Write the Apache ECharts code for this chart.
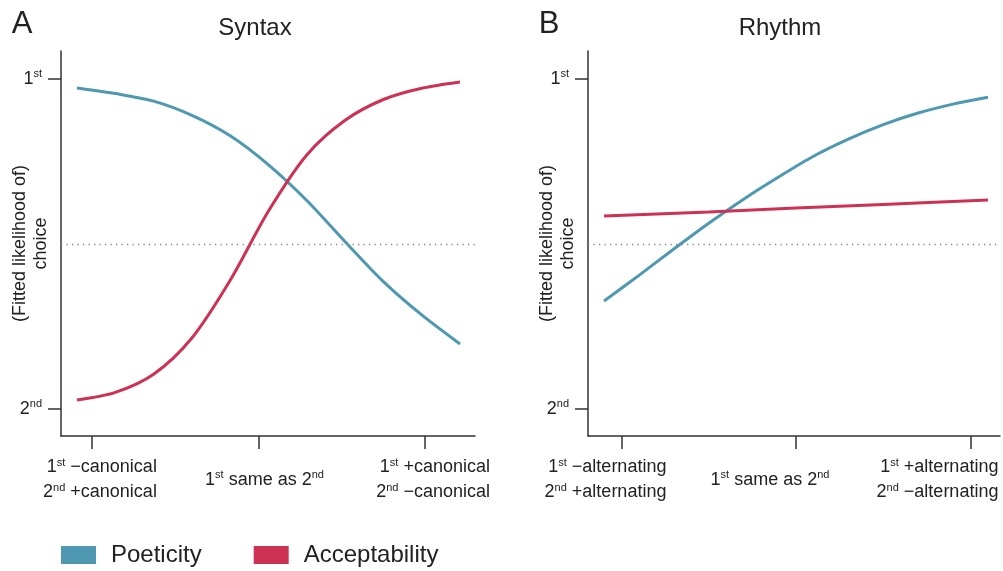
<!DOCTYPE html>
<html>
<head>
<meta charset="utf-8">
<script src="https://cdn.jsdelivr.net/npm/echarts@6.0.0/dist/echarts.min.js"></script>
<style>
  html, body { margin: 0; padding: 0; background: #fff; }
  #chart { width: 1003px; height: 571px; }
</style>
</head>
<body>
<div id="chart"></div>
<script>
// values (y: 0 = 2nd choice, 1 = 1st choice)
var xTickValues = [-1, 0, 1];
var syntaxTicks = ['1st −canonical|2nd +canonical', '1st same as 2nd', '1st +canonical|2nd −canonical'];
var rhythmTicks = ['1st −alternating|2nd +alternating', '1st same as 2nd', '1st +alternating|2nd −alternating'];
var yTickValues = [0, 1];
var yTickLabels = ['2nd', '1st'];

var syntaxX = [-1.09, -0.86, -0.63, -0.40, -0.17, 0.06, 0.29, 0.52, 0.75, 0.98, 1.21];
var syntaxPoeticity = [0.973, 0.956, 0.933, 0.89, 0.828, 0.74, 0.632, 0.507, 0.386, 0.285, 0.197];
var syntaxAcceptability = [0.027, 0.05, 0.105, 0.215, 0.39, 0.6, 0.77, 0.875, 0.938, 0.972, 0.991];

var rhythmX = [-1.1, -0.9, -0.7, -0.5, -0.3, -0.1, 0.1, 0.3, 0.5, 0.7, 0.9, 1.1];
var rhythmPoeticity = [0.327, 0.405, 0.485, 0.563, 0.636, 0.703, 0.766, 0.818, 0.862, 0.897, 0.924, 0.945];
var rhythmAccX = [-1.1, -0.5, 0, 0.5, 1.1];
var rhythmAcceptability = [0.585, 0.597, 0.609, 0.62, 0.633];

// horizontal nudge of each x tick label, px (layout only)
var syntaxLabelShift = [8, 6, 8];
var rhythmLabelShift = [-16, -26, -33];

var blue = '#4e98b1';
var red = '#cd3153';
var ink = '#222';

function zip(xs, ys) {
    var out = [];
    for (var i = 0; i < xs.length; i++) out.push([xs[i], ys[i]]);
    return out;
}

var labelRich = {
    n: { fontSize: 18, lineHeight: 25, color: ink, align: 'right', fontFamily: 'Liberation Sans' },
    p: { fontSize: 11, lineHeight: 25, color: ink, align: 'right', padding: [0, 0, 10, 0], fontFamily: 'Liberation Sans' },
    m: { fontSize: 18, lineHeight: 50, color: ink, fontFamily: 'Liberation Sans' },
    mp: { fontSize: 11, color: ink, padding: [0, 0, 10, 0], fontFamily: 'Liberation Sans' }
};
var yRich = {
    n: { fontSize: 18, color: ink, fontFamily: 'Liberation Sans' },
    p: { fontSize: 11, color: ink, padding: [0, 0, 10, 0], fontFamily: 'Liberation Sans' }
};

// padded copy of a rich style, registered under a new name
function shiftedStyle(base, side, amt) {
    var name = base + side + amt;
    if (!labelRich[name]) {
        var src = labelRich[base];
        var s = {};
        for (var k in src) s[k] = src[k];
        var pad = (src.padding || [0, 0, 0, 0]).slice();
        pad[side === 'L' ? 3 : 1] = amt * 2;
        s.padding = pad;
        labelRich[name] = s;
    }
    return name;
}

// turn "1st" / "2nd" into number + superscript tokens
function richLine(str, n, p, shift) {
    var parts = str.split(/(\d)(st|nd)/);
    var toks = [];
    for (var i = 0; i < parts.length; i++) {
        if (!parts[i]) continue;
        toks.push([i % 3 === 2 ? p : n, parts[i]]);
    }
    if (shift > 0) toks[0][0] = shiftedStyle(toks[0][0], 'L', shift);
    if (shift < 0) toks[toks.length - 1][0] = shiftedStyle(toks[toks.length - 1][0], 'R', -shift);
    return toks.map(function (t) { return '{' + t[0] + '|' + t[1] + '}'; }).join('');
}
function tickLabel(str, shift) {
    var lines = str.split('|');
    if (lines.length === 1) return richLine(str, 'm', 'mp', shift);
    return lines.map(function (l) { return richLine(l, 'n', 'p', shift); }).join('\n');
}
function buildLabels(ticks, shifts) {
    return ticks.map(function (t, i) { return tickLabel(t, shifts[i]); });
}
var syntaxLabelText = buildLabels(syntaxTicks, syntaxLabelShift);
var rhythmLabelText = buildLabels(rhythmTicks, rhythmLabelShift);

function makeX(idx, min, max, texts) {
    return {
        type: 'value', gridIndex: idx, min: min, max: max,
        axisLine: { onZero: false, lineStyle: { color: '#333', width: 1.5 } },
        axisTick: { customValues: xTickValues, length: 13, lineStyle: { color: '#333', width: 1.5 } },
        axisLabel: {
            customValues: xTickValues, margin: 19, hideOverlap: false,
            formatter: function (v) { return texts[xTickValues.indexOf(Math.round(v))]; },
            rich: labelRich
        },
        splitLine: { show: false }
    };
}
function makeY(idx) {
    return {
        type: 'value', gridIndex: idx, min: -0.082, max: 1.085,
        name: '(Fitted likelihood of)\nchoice', nameLocation: 'middle', nameGap: 9, nameMoveOverlap: false,
        nameTextStyle: { fontSize: 18, lineHeight: 21, color: ink, fontFamily: 'Liberation Sans' },
        axisLine: { onZero: false, lineStyle: { color: '#333', width: 1.5 } },
        axisTick: { customValues: yTickValues, length: 13, lineStyle: { color: '#333', width: 1.5 } },
        axisLabel: {
            customValues: yTickValues, margin: 19,
            formatter: function (v) { return richLine(yTickLabels[yTickValues.indexOf(Math.round(v))], 'n', 'p', 0); },
            rich: yRich
        },
        splitLine: { show: false }
    };
}
function curve(name, xi, data, color, withRef) {
    var s = {
        name: name, type: 'line', xAxisIndex: xi, yAxisIndex: xi,
        data: data, smooth: 0.3, showSymbol: false, symbol: 'none',
        lineStyle: { color: color, width: 3 }, itemStyle: { color: color }
    };
    if (withRef) {
        s.markLine = {
            silent: true, symbol: ['none', 'none'], label: { show: false },
            lineStyle: { color: '#888', width: 1.3, type: [1.3, 4.2] },
            data: [{ yAxis: 0.5 }]
        };
    }
    return s;
}

var chart = echarts.init(document.getElementById('chart'));
chart.setOption({
    animation: false,
    textStyle: { fontFamily: 'Liberation Sans' },
    grid: [
        { left: 61, top: 51, width: 414, height: 385, outerBoundsMode: 'none', containLabel: false },
        { left: 588, top: 51, width: 412, height: 385, outerBoundsMode: 'none', containLabel: false }
    ],
    xAxis: [
        makeX(0, -1.186, 1.30, syntaxLabelText),
        makeX(1, -1.192, 1.169, rhythmLabelText)
    ],
    yAxis: [makeY(0), makeY(1)],
    legend: {
        data: ['Poeticity', 'Acceptability'], left: 61, top: 543, padding: 0,
        icon: 'rect', itemWidth: 35, itemHeight: 18, itemGap: 52,
        textStyle: { fontSize: 24, color: ink, padding: [0, 0, 0, 10], fontFamily: 'Liberation Sans' }
    },
    graphic: [
        { type: 'text', style: { text: 'A', x: 22, y: 24, align: 'center', verticalAlign: 'middle', fontSize: 31, fill: ink, fontFamily: 'Liberation Sans' } },
        { type: 'text', style: { text: 'Syntax', x: 255, y: 28, align: 'center', verticalAlign: 'middle', fontSize: 24, fill: ink, fontFamily: 'Liberation Sans' } },
        { type: 'text', style: { text: 'B', x: 549, y: 24, align: 'center', verticalAlign: 'middle', fontSize: 31, fill: ink, fontFamily: 'Liberation Sans' } },
        { type: 'text', style: { text: 'Rhythm', x: 780, y: 28, align: 'center', verticalAlign: 'middle', fontSize: 24, fill: ink, fontFamily: 'Liberation Sans' } }
    ],
    series: [
        curve('Poeticity', 0, zip(syntaxX, syntaxPoeticity), blue, true),
        curve('Acceptability', 0, zip(syntaxX, syntaxAcceptability), red, false),
        curve('Poeticity', 1, zip(rhythmX, rhythmPoeticity), blue, true),
        curve('Acceptability', 1, zip(rhythmAccX, rhythmAcceptability), red, false)
    ]
});
</script>
</body>
</html>
